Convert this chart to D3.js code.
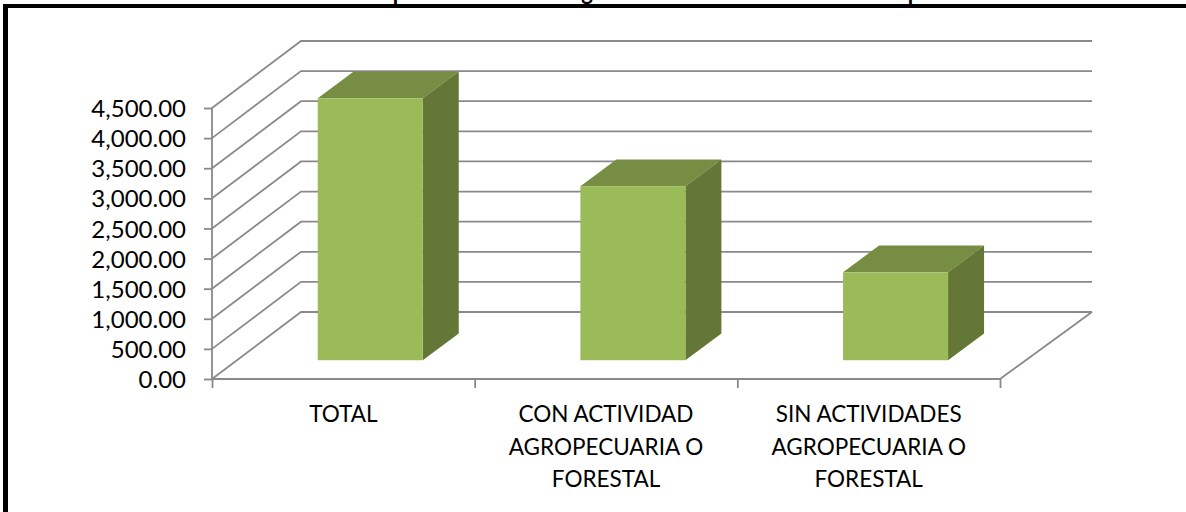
<!DOCTYPE html>
<html>
<head>
<meta charset="utf-8">
<script src="https://cdn.jsdelivr.net/npm/d3@7"></script>
<style>
html,body{margin:0;padding:0;background:#fff}
svg{display:block}
text{font-family:Lato,"Open Sans",sans-serif;fill:#000}
</style>
</head>
<body>
<svg id="c" width="1186" height="512"></svg>
<script>
const categories = [
  ["TOTAL"],
  ["CON ACTIVIDAD","AGROPECUARIA O","FORESTAL"],
  ["SIN ACTIVIDADES","AGROPECUARIA O","FORESTAL"]
];
const values = [4350, 2890, 1460];
const yTicks = [0,500,1000,1500,2000,2500,3000,3500,4000,4500];
const titleFragments = [["p",399],["g",587],["p",914]];

const svg = d3.select("#c");
const gridColor = "#8a8a8a";
const x0 = 212, x1 = 1000, yBase = 379, yTop = 108;
const depthX = d3.scaleLinear().domain([0,1]).range([0,90]);
const depthY = d3.scaleLinear().domain([0,1]).range([0,-67]);
const y = d3.scaleLinear().domain([0,4500]).range([yBase,yTop]);
const xEdges = d3.scaleLinear().domain([0,categories.length]).range([x0,x1]);
const xCenter = d3.scaleBand().domain(d3.range(categories.length)).range([x0,x1]);

// frame
svg.append("rect").attr("x",3).attr("y",4).attr("width",1183).attr("height",4).attr("fill","#000");
svg.append("rect").attr("x",3).attr("y",4).attr("width",5).attr("height",508).attr("fill","#000");

// cropped title: only these descenders are legible
svg.append("g").selectAll("text").data(titleFragments).join("text")
  .attr("x",d=>d[1]).attr("y",0).attr("text-anchor","middle")
  .style("font-weight","bold").style("font-size","22px").text(d=>d[0]);

// walls: side diagonals and back gridlines
const grid = svg.append("g").attr("fill","none").attr("stroke",gridColor).attr("stroke-width",1.8);
grid.selectAll("path.wall").data(yTicks).join("path").attr("class","wall")
  .attr("d",t=>d3.line()([
    [x0,y(t)],
    [x0+depthX(1)-1,y(t)+depthY(1)],
    [x1+depthX(1)+2,y(t)+depthY(1)]
  ]));
grid.append("path").attr("d",d3.line()([
  [x1,yBase],[x1+depthX(1)+2,yBase+depthY(1)]
]));

// axes
const yAxis = d3.axisLeft(y).tickValues(yTicks).tickFormat(d3.format(",.2f")).tickSize(8).tickPadding(18);
const gy = svg.append("g").attr("transform",`translate(${x0},0)`).call(yAxis);
gy.selectAll("text").style("font-size","24px").attr("dy","0.36em");
const xAxis = d3.axisBottom(xEdges).tickValues(d3.range(categories.length+1)).tickFormat("").tickSize(9);
const gx = svg.append("g").attr("transform",`translate(0,${yBase})`).call(xAxis);
[gy,gx].forEach(g=>{
  g.selectAll("path.domain,line").attr("stroke",gridColor).attr("stroke-width",1.8);
  g.select("path.domain").attr("d", g===gy ? `M${0},${y(4500)}V${y(0)}` : `M${x0},0H${x1}`);
});

// bars
const dFront = 0.28, dBack = 0.68;
const barW = 105, barNudge = 1.7;
const bars = svg.append("g").selectAll("g").data(values).join("g");
const fx = (d,i)=>xCenter(i)+xCenter.bandwidth()/2-barW/2+depthX(dFront)+barNudge;
const fy = v=>y(v)+depthY(dFront);
const bx = depthX(dBack-dFront), by = depthY(dBack-dFront);
bars.append("path").attr("fill","#778D44").attr("d",(d,i)=>{
  const l=fx(d,i), t=fy(d);
  return d3.line()([[l,t],[l+barW,t],[l+barW+bx,t+by],[l+bx,t+by]])+"Z";
});
bars.append("path").attr("fill","#657736").attr("d",(d,i)=>{
  const r=fx(d,i)+barW, t=fy(d), b=fy(0);
  return d3.line()([[r,t],[r+bx,t+by],[r+bx,b+by],[r,b]])+"Z";
});
bars.append("rect").attr("fill","#9BBB59")
  .attr("x",fx).attr("y",d=>fy(d)).attr("width",barW).attr("height",d=>fy(0)-fy(d));

// category labels
const labels = svg.append("g").selectAll("text").data(categories).join("text")
  .attr("text-anchor","middle").style("font-size","22.5px")
  .attr("transform",(d,i)=>`translate(${xCenter(i)+xCenter.bandwidth()/2},422)`);
labels.selectAll("tspan").data(d=>d).join("tspan")
  .attr("x",0).attr("y",(d,i)=>i*32.5).text(d=>d);
</script>
</body>
</html>
